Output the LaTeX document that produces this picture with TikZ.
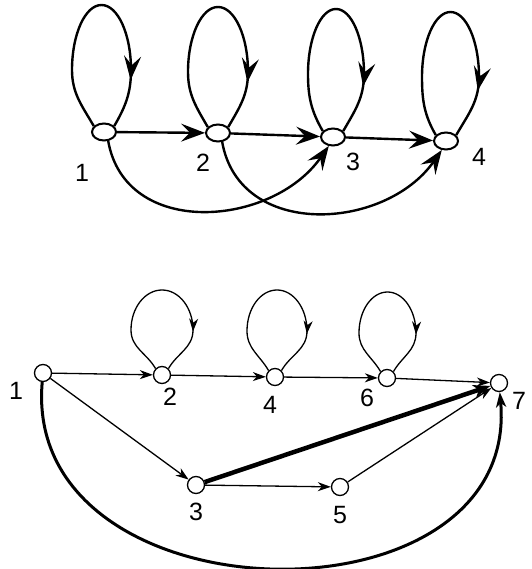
\documentclass[tikz,border=0pt]{standalone}
\usepackage{fontspec}
\setmainfont{Liberation Sans}
\usetikzlibrary{arrows.meta,shapes.geometric,decorations.markings,calc}

\begin{document}
\begin{tikzpicture}[
    x=1pt, y=1pt,
    topvx/.style={ellipse,draw,line width=2pt,minimum width=24pt,minimum height=17pt,inner sep=0pt},
    botvx/.style={circle,draw,line width=1.3pt,minimum size=17pt,inner sep=0pt},
    num/.style={font=\fontsize{25}{25}\selectfont,inner sep=0pt},
    toparrow/.style={line width=2.4pt,-{Stealth[length=24pt,width=18pt,inset=9pt]}},
    botarrow/.style={line width=1.3pt,-{Stealth[length=13pt,width=9pt,inset=4pt]}},
    heavyarrow/.style={line width=4.5pt,-{Stealth[length=17pt,width=13pt,inset=5pt]}},
    arcarrow/.style={line width=3pt,-{Stealth[length=15pt,width=10pt,inset=4pt]}},
    toploop/.style={line width=2.4pt,postaction={decorate},
        decoration={markings,mark=at position 0.82 with {\arrow{Stealth[length=24pt,width=17pt,inset=9pt]}}}},
    botloop/.style={line width=1.3pt,postaction={decorate},
        decoration={markings,mark=at position 0.78 with {\arrow{Stealth[length=13pt,width=9pt,inset=4pt]}}}}
]
\useasboundingbox (0,0) rectangle (531,569);

% upper graph
\node[topvx] (n1) at (104,437) {};
\node[topvx] (n2) at (218,436) {};
\node[topvx] (n3) at (333,432) {};
\node[topvx] (n4) at (446,428) {};

\node[num] (n1lab) at (82,396) {1};
\node[num] (n2lab) at (203,406) {2};
\node[num] (n3lab) at (353,407) {3};
\node[num] (n4lab) at (479,412) {4};

\draw[toploop] (n1.150) to[out=120,in=-90] ($(n1)+(-32,62)$)
    arc[start angle=180,end angle=0,x radius=29.5,y radius=65] to[out=-90,in=60] (n1.30);
\draw[toploop] (n2.150) to[out=120,in=-90] ($(n2)+(-30,61)$)
    arc[start angle=180,end angle=0,x radius=30,y radius=65] to[out=-90,in=60] (n2.30);
\draw[toploop] (n3.150) to[out=120,in=-90] ($(n3)+(-25,63)$)
    arc[start angle=180,end angle=0,x radius=28,y radius=65] to[out=-90,in=60] (n3.30);
\draw[toploop] (n4.150) to[out=120,in=-90] ($(n4)+(-24,64)$)
    arc[start angle=180,end angle=0,x radius=28.5,y radius=65] to[out=-90,in=60] (n4.30);

\draw[toparrow] (n1) -- (n2);
\draw[toparrow] (n2) -- (n3);
\draw[toparrow] (n3) -- (n4);
\draw[toparrow] (n1.295) to[out=-80,in=-125,looseness=1.15] (n3.245);
\draw[toparrow] (n2.295) to[out=-80,in=-125,looseness=1.15] (n4.245);

% lower graph
\node[botvx] (b1) at (43,196) {};
\node[botvx] (b2) at (162,194) {};
\node[botvx] (b4) at (275,192) {};
\node[botvx] (b6) at (387,191) {};
\node[botvx] (b7) at (499,186) {};
\node[botvx] (b3) at (196,84) {};
\node[botvx] (b5) at (340,82) {};

\node[num] (b1lab) at (16,178) {1};
\node[num] (b2lab) at (170,172) {2};
\node[num] (b4lab) at (270,164) {4};
\node[num] (b6lab) at (367,171) {6};
\node[num] (b7lab) at (519,168) {7};
\node[num] (b3lab) at (196,57) {3};
\node[num] (b5lab) at (340,54) {5};

\draw[botloop] (b2.135) to[out=120,in=-90] ($(b2)+(-31,45)$)
    arc[start angle=180,end angle=0,x radius=31,y radius=40] to[out=-90,in=60] (b2.45);
\draw[botloop] (b4.135) to[out=120,in=-90] ($(b4)+(-28,46)$)
    arc[start angle=180,end angle=0,x radius=30,y radius=41] to[out=-90,in=60] (b4.45);
\draw[botloop] (b6.135) to[out=120,in=-90] ($(b6)+(-28,45)$)
    arc[start angle=180,end angle=0,x radius=28.5,y radius=41] to[out=-90,in=60] (b6.45);

\draw[botarrow] (b1) -- (b2);
\draw[botarrow] (b2) -- (b4);
\draw[botarrow] (b4) -- (b6);
\draw[botarrow] (b6) -- (b7);
\draw[botarrow] (b1) -- (b3);
\draw[botarrow] (b3) -- (b5);
\draw[botarrow] (b5) -- (b7);
\draw[heavyarrow] (b3) -- (b7);
\draw[arcarrow] (b1.265) to[out=-95,in=-85,looseness=1.35] (b7.275);
\end{tikzpicture}
\end{document}
